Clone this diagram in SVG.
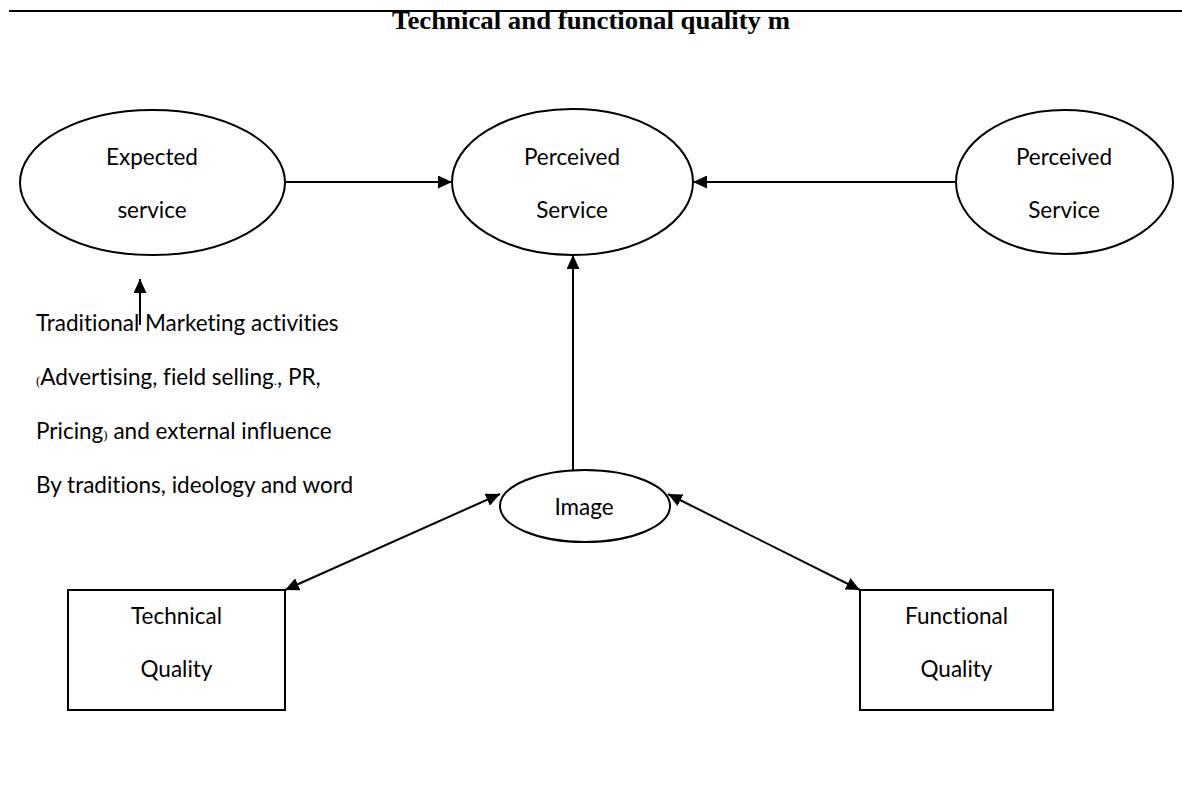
<svg xmlns="http://www.w3.org/2000/svg" width="1182" height="807" viewBox="0 0 1182 807">
  <defs>
    <marker id="head" viewBox="0 0 14 13" refX="14" refY="6.5" markerWidth="14" markerHeight="13" markerUnits="userSpaceOnUse" orient="auto-start-reverse">
      <path d="M0,0 L14,6.5 L0,13 z" fill="#000"/>
    </marker>
    <style>
      .shape { fill: #fff; stroke: #000; stroke-width: 2; }
      .lbl { font-family: Lato, "Liberation Sans", sans-serif; font-size: 22.5px; fill: #000; font-variant-ligatures: none; font-feature-settings: "liga" 0; }
      .mid { text-anchor: middle; }
      .tiny { font-family: "Liberation Serif", serif; font-size: 13px; }
      .edge { fill: none; stroke: #000; stroke-width: 2; }
      .title { font-family: "Liberation Serif", serif; font-weight: bold; font-size: 25px; fill: #000; text-anchor: middle; }
    </style>
  </defs>

  <rect width="1182" height="807" fill="#fff"/>

  <!-- heading rule and heading -->
  <line x1="9" y1="11" x2="1182" y2="11" stroke="#000" stroke-width="2.2"/>
  <text class="title" x="591" y="29" textLength="398" lengthAdjust="spacingAndGlyphs">Technical and functional quality m</text>

  <!-- connectors -->
  <g id="connectors">
    <path class="edge" d="M285,182 L452,182" marker-end="url(#head)"/>
    <path class="edge" d="M956,182 L693,182" marker-end="url(#head)"/>
    <path class="edge" d="M573,470 L573,255" marker-end="url(#head)"/>
    <path class="edge" d="M140,325 L140,279" marker-end="url(#head)"/>
    <path class="edge" d="M285,590 L500,494" marker-start="url(#head)" marker-end="url(#head)"/>
    <path class="edge" d="M668,494 L860,590" marker-start="url(#head)" marker-end="url(#head)"/>
  </g>

  <g id="expected-service">
    <ellipse class="shape" cx="152.5" cy="182.5" rx="132.5" ry="72.5"/>
    <text class="lbl mid" x="152" y="165">Expected</text>
    <text class="lbl mid" x="152" y="218">service</text>
  </g>

  <g id="perceived-service">
    <ellipse class="shape" cx="572.5" cy="182" rx="120.5" ry="73"/>
    <text class="lbl mid" x="572" y="165">Perceived</text>
    <text class="lbl mid" x="572" y="218">Service</text>
  </g>

  <g id="perceived-service-right">
    <ellipse class="shape" cx="1064.5" cy="182" rx="108.5" ry="72"/>
    <text class="lbl mid" x="1064" y="165">Perceived</text>
    <text class="lbl mid" x="1064" y="218">Service</text>
  </g>

  <g id="image">
    <ellipse class="shape" cx="585" cy="506" rx="85" ry="36"/>
    <text class="lbl mid" x="584" y="515">Image</text>
  </g>

  <g id="technical-quality">
    <rect class="shape" x="68" y="590" width="217" height="120"/>
    <text class="lbl mid" x="176.5" y="624">Technical</text>
    <text class="lbl mid" x="176.5" y="677">Quality</text>
  </g>

  <g id="functional-quality">
    <rect class="shape" x="860" y="590" width="193" height="120"/>
    <text class="lbl mid" x="956.5" y="624">Functional</text>
    <text class="lbl mid" x="956.5" y="677">Quality</text>
  </g>

  <g id="marketing-activities">
    <text class="lbl" x="36" y="331">Traditional Marketing activities</text>
    <text class="lbl" x="36" y="385"><tspan class="tiny">(</tspan>Advertising, field selling<tspan class="tiny">.</tspan>, PR,</text>
    <text class="lbl" x="36" y="439">Pricing<tspan class="tiny">)</tspan> and external influence</text>
    <text class="lbl" x="36" y="493">By traditions, ideology and word</text>
  </g>
</svg>
